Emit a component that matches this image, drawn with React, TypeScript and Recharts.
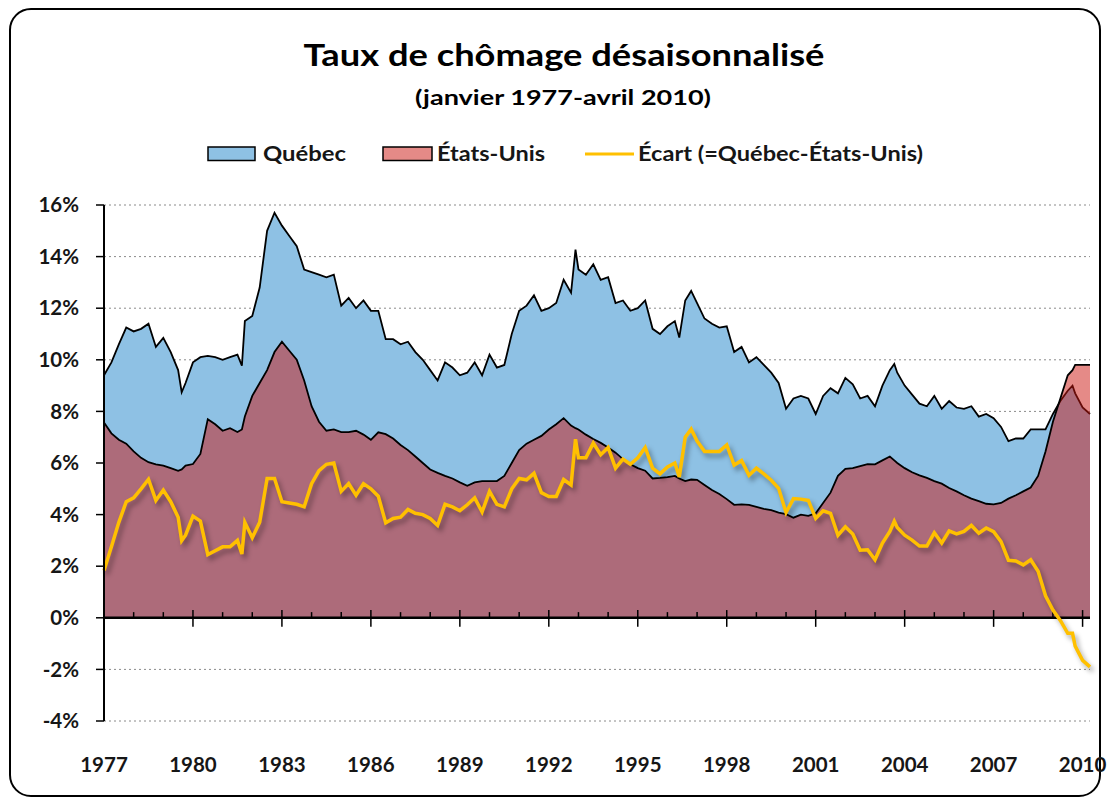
import { ComposedChart, Area, Line, XAxis, YAxis, CartesianGrid, ReferenceLine } from 'recharts';

// decimal year of each reading (quarterly, plus a few extra points at sharp moves)
const periods = [
  1977, 1977.25, 1977.5, 1977.75,
  1978, 1978.25, 1978.5, 1978.75,
  1979, 1979.25, 1979.5, 1979.62, 1979.75,
  1980, 1980.25, 1980.5, 1980.75,
  1981, 1981.25, 1981.5, 1981.65, 1981.75,
  1982, 1982.25, 1982.5, 1982.75,
  1983, 1983.25, 1983.5, 1983.75,
  1984, 1984.25, 1984.5, 1984.75,
  1985, 1985.25, 1985.5, 1985.75,
  1986, 1986.25, 1986.5, 1986.75,
  1987, 1987.25, 1987.5, 1987.75,
  1988, 1988.25, 1988.5, 1988.75,
  1989, 1989.25, 1989.5, 1989.75,
  1990, 1990.25, 1990.5, 1990.75,
  1991, 1991.25, 1991.5, 1991.75,
  1992, 1992.25, 1992.5, 1992.75, 1992.9,
  1993, 1993.25, 1993.5, 1993.75,
  1994, 1994.25, 1994.5, 1994.75,
  1995, 1995.25, 1995.5, 1995.75,
  1996, 1996.25, 1996.4, 1996.6, 1996.8,
  1997, 1997.25, 1997.5, 1997.75,
  1998, 1998.25, 1998.5, 1998.75,
  1999, 1999.25, 1999.5, 1999.75,
  2000, 2000.25, 2000.5, 2000.75,
  2001, 2001.25, 2001.5, 2001.75,
  2002, 2002.25, 2002.5, 2002.75,
  2003, 2003.25, 2003.5, 2003.65, 2003.75,
  2004, 2004.25, 2004.5, 2004.75,
  2005, 2005.25, 2005.5, 2005.75,
  2006, 2006.25, 2006.5, 2006.75,
  2007, 2007.25, 2007.5, 2007.75,
  2008, 2008.25, 2008.5, 2008.75,
  2009, 2009.25, 2009.5, 2009.66, 2009.75,
  2010, 2010.25,
];

// taux de chômage, %
const quebec = [
  9.4, 9.9, 10.6, 11.25,
  11.1, 11.2, 11.4, 10.5,
  10.85, 10.3, 9.6, 8.74, 9.1,
  9.9, 10.1, 10.15, 10.1,
  10.0, 10.1, 10.2, 9.77, 11.5,
  11.7, 12.8, 15.0, 15.7,
  15.2, 14.8, 14.4, 13.5,
  13.4, 13.3, 13.2, 13.3,
  12.1, 12.4, 12.0, 12.3,
  11.9, 11.9, 10.8, 10.8,
  10.6, 10.7, 10.3, 10.0,
  9.6, 9.2, 9.9, 9.7,
  9.4, 9.5, 9.9, 9.4,
  10.2, 9.7, 9.8, 11.0,
  11.9, 12.1, 12.5, 11.9,
  12.0, 12.2, 13.1, 12.6, 14.27,
  13.5, 13.3, 13.7, 13.1,
  13.2, 12.2, 12.3, 11.9,
  12.0, 12.3, 11.2, 11.0,
  11.3, 11.5, 10.86, 12.3, 12.67,
  12.2, 11.6, 11.4, 11.25,
  11.3, 10.3, 10.5, 9.9,
  10.1, 9.8, 9.5, 9.1,
  8.1, 8.5, 8.6, 8.5,
  7.9, 8.6, 8.9, 8.7,
  9.3, 9.05, 8.5, 8.6,
  8.2, 9.0, 9.6, 9.84, 9.5,
  9.0, 8.65, 8.3, 8.2,
  8.6, 8.1, 8.4, 8.15,
  8.1, 8.2, 7.8, 7.9,
  7.74, 7.4, 6.85, 6.95,
  6.95, 7.3, 7.3, 7.3,
  7.9, 8.4, 8.8, 9.0, 8.7,
  8.15, 7.9,
];

const etatsUnis = [
  7.57, 7.15, 6.9, 6.75,
  6.45, 6.2, 6.03, 5.95,
  5.9, 5.8, 5.7, 5.75, 5.9,
  5.96, 6.35, 7.7, 7.5,
  7.25, 7.35, 7.2, 7.3, 7.8,
  8.6, 9.1, 9.6, 10.3,
  10.7, 10.35, 10.0, 9.2,
  8.2, 7.6, 7.25, 7.3,
  7.2, 7.2, 7.25, 7.1,
  6.9, 7.19, 7.12, 6.95,
  6.7, 6.5, 6.25, 6.0,
  5.75, 5.62, 5.5, 5.4,
  5.25, 5.12, 5.25, 5.3,
  5.3, 5.3, 5.5, 6.0,
  6.5, 6.75, 6.9, 7.05,
  7.3, 7.5, 7.74, 7.45, 7.35,
  7.3, 7.1, 6.93, 6.78,
  6.6, 6.4, 6.15, 5.95,
  5.8, 5.7, 5.4, 5.42,
  5.45, 5.5, 5.4, 5.3, 5.36,
  5.35, 5.15, 4.95, 4.8,
  4.6, 4.38, 4.4, 4.38,
  4.3, 4.22, 4.17, 4.08,
  4.02, 3.88, 4.0, 3.95,
  4.05, 4.45, 4.85, 5.5,
  5.77, 5.8, 5.88, 5.96,
  5.95, 6.1, 6.25, 6.1, 6.0,
  5.8, 5.64, 5.52, 5.42,
  5.3, 5.2, 5.03, 4.9,
  4.75, 4.62, 4.52, 4.42,
  4.4, 4.45, 4.62, 4.75,
  4.9, 5.05, 5.5, 6.45,
  7.6, 8.5, 9.4, 9.6, 9.8,
  9.8, 9.8,
];

const yearLabels = [1977, 1980, 1983, 1986, 1989, 1992, 1995, 1998, 2001, 2004, 2007, 2010];
const percentTicks = [-4, -2, 0, 2, 4, 6, 8, 10, 12, 14, 16];
const allYears = Array.from({ length: 34 }, (_, i) => 1977 + i);

// écart = Québec - États-Unis, as in the legend
const data = periods.map((t, i) => ({
  t,
  quebec: quebec[i],
  etatsUnis: etatsUnis[i],
  ecart: +(quebec[i] - etatsUnis[i]).toFixed(2),
}));

const FONT = "Lato, 'Open Sans', sans-serif";
const BLUE = '#8EC1E4';
const RED = '#CB150F';
const GOLD = '#FFC000';
const INK = '#161616';

export default function App() {
  return (
    <div style={{ position: 'absolute', left: 0, top: 0, width: 1107, height: 799, background: '#fff', fontFamily: FONT }}>
      <style>{'.ecart-line path { filter: drop-shadow(3px 4px 2.5px rgba(0,0,0,0.35)); }'}</style>
      <div
        style={{
          position: 'absolute',
          left: 9,
          top: 8,
          width: 1092,
          height: 789,
          boxSizing: 'border-box',
          border: '2.5px solid #000',
          borderRadius: 22,
        }}
      />

      {/* title + legend */}
      <svg width={1107} height={190} style={{ position: 'absolute', left: 0, top: 0 }} fontFamily={FONT}>
        <text x={564} y={66} textAnchor="middle" fontSize={31} fontWeight={700} fill="#000" textLength={521} lengthAdjust="spacingAndGlyphs">
          Taux de chômage désaisonnalisé
        </text>
        <text x={563} y={105} textAnchor="middle" fontSize={21} fontWeight={700} fill="#000" textLength={296} lengthAdjust="spacingAndGlyphs">
          (janvier 1977-avril 2010)
        </text>
        <rect x={208} y={147} width={47} height={13.5} fill={BLUE} stroke="#000" strokeWidth={1.5} />
        <text x={263} y={161} fontSize={20} fontWeight={700} fill={INK} textLength={83} lengthAdjust="spacingAndGlyphs">Québec</text>
        <rect x={383} y={147} width={49} height={13.5} fill="#E58A87" stroke="#000" strokeWidth={1.5} />
        <text x={437} y={161} fontSize={20} fontWeight={700} fill={INK} textLength={108} lengthAdjust="spacingAndGlyphs">États-Unis</text>
        <line x1={585} y1={154} x2={634} y2={154} stroke={GOLD} strokeWidth={3} />
        <text x={638} y={161} fontSize={20} fontWeight={700} fill={INK} textLength={285} lengthAdjust="spacingAndGlyphs">Écart (=Québec-États-Unis)</text>
      </svg>

      <div style={{ position: 'absolute', left: 0, top: 0 }}>
        <ComposedChart width={1107} height={799} data={data} margin={{ top: 205, right: 17, left: 0, bottom: 28 }}>
          <CartesianGrid vertical={false} stroke="#8a8a8a" strokeDasharray="2 3" />
          <XAxis
            dataKey="t"
            type="number"
            domain={[1977, 2010.25]}
            ticks={yearLabels}
            axisLine={false}
            tickLine={false}
            tickMargin={30}
            height={50}
            tick={{ fill: INK, fontSize: 20.5, fontWeight: 700, fontFamily: FONT }}
          />
          <YAxis
            type="number"
            domain={[-4, 16]}
            ticks={percentTicks}
            width={104}
            tickFormatter={(v) => `${v}%`}
            axisLine={{ stroke: '#000', strokeWidth: 2 }}
            tickLine={{ stroke: '#000', strokeWidth: 1.5 }}
            tickSize={8}
            tickMargin={17}
            tick={{ fill: INK, fontSize: 20.5, fontWeight: 700, fontFamily: FONT }}
          />
          <Area
            type="linear"
            dataKey="quebec"
            baseValue={0}
            fill={BLUE}
            fillOpacity={1}
            stroke="#000"
            strokeWidth={1.8}
            isAnimationActive={false}
          />
          <Area
            type="linear"
            dataKey="etatsUnis"
            baseValue={0}
            fill={RED}
            fillOpacity={0.5}
            stroke="#000"
            strokeWidth={1.8}
            isAnimationActive={false}
          />
          <ReferenceLine y={0} stroke="#000" strokeWidth={2.5} />
          {allYears.map((yr) => (
            <ReferenceLine
              key={yr}
              segment={
                (yr - 1977) % 3 === 0
                  ? [{ x: yr, y: -0.35 }, { x: yr, y: 0.3 }]
                  : [{ x: yr, y: 0 }, { x: yr, y: 0.22 }]
              }
              stroke="#000"
              strokeWidth={1.5}
            />
          ))}
          <Line
            type="linear"
            dataKey="ecart"
            className="ecart-line"
            stroke={GOLD}
            strokeWidth={3.5}
            dot={false}
            isAnimationActive={false}
          />
        </ComposedChart>
      </div>
    </div>
  );
}
